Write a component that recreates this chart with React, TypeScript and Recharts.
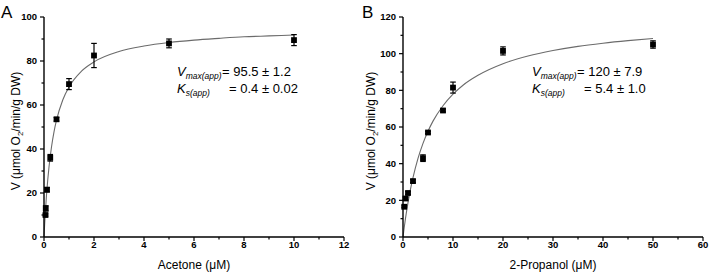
import React from 'react';
import { ComposedChart, Line, Scatter, ErrorBar, XAxis, YAxis } from 'recharts';

// Panel A: acetone
const acetoneConc = [0.06, 0.07, 0.12, 0.25, 0.5, 1, 2, 5, 10];
const acetoneRate = [10, 13, 21.5, 36, 53.5, 69.5, 82.5, 88, 89.5];
const acetoneErr = [0.5, 1.2, 1, 1.5, 0.8, 2.5, 5.5, 2, 2.5];
// fitted saturation curve, read along its length
const acetoneFitX = [0, 0.025, 0.05, 0.1, 0.15, 0.2, 0.3, 0.4, 0.5, 0.75, 1, 1.5, 2, 3, 4, 5, 6, 7, 8, 9, 10];
const acetoneFitY = [0, 5.6, 10.6, 19.1, 26, 31.8, 40.9, 47.8, 53.1, 62.3, 68.2, 75.4, 79.6, 84.3, 86.8, 88.4, 89.5, 90.3, 91, 91.4, 91.8];
const acetoneXTicks = [0, 1, 2, 3, 4, 5, 6, 7, 8, 9, 10, 11, 12];
const acetoneYTicks = [0, 10, 20, 30, 40, 50, 60, 70, 80, 90, 100];

// Panel B: 2-propanol
const propanolConc = [0.25, 0.5, 1, 2, 4, 5, 8, 10, 20, 50];
const propanolRate = [16.5, 21, 24, 30.5, 43, 57, 69, 81.5, 101.5, 105];
const propanolErr = [0.5, 0.8, 0.8, 0.8, 1.8, 0.6, 0.8, 3, 2.2, 2];
const propanolFitX = [0, 0.25, 0.5, 1, 1.5, 2, 3, 4, 5, 6, 8, 10, 12, 15, 20, 25, 30, 35, 40, 45, 50];
const propanolFitY = [0, 5.3, 10.2, 18.8, 26.1, 32.4, 42.9, 51.1, 57.7, 63.2, 71.6, 77.9, 82.8, 88.2, 94.5, 98.7, 101.7, 104, 105.7, 107.1, 108.3];
const propanolXTicks = [0, 5, 10, 15, 20, 25, 30, 35, 40, 45, 50, 55, 60];
const propanolYTicks = [0, 10, 20, 30, 40, 50, 60, 70, 80, 90, 100, 110, 120];

const FONT = '"Liberation Sans", Arial, sans-serif';

const toPoints = (xs: number[], ys: number[], errs?: number[]) =>
  xs.map((x, i) => ({ x, y: ys[i], err: errs ? errs[i] : 0 }));

const Square = (props: any) => {
  const { cx, cy } = props;
  if (cx == null || cy == null) return null;
  return <rect x={cx - 2.9} y={cy - 2.9} width={5.8} height={5.8} fill="#000" />;
};

// ticks with labels on every other value, short unlabelled ticks in between
const makeXTick = (labelStep: number) => (props: any) => {
  const { x, y, payload } = props;
  const major = payload.value % labelStep === 0;
  return (
    <g>
      <line x1={x} x2={x} y1={y} y2={y + (major ? 4 : 2.5)} stroke="#000" strokeWidth={1.2} />
      {major && (
        <text x={x} y={y + 10.5} textAnchor="middle" fontSize={9.5} fontWeight="bold" fontFamily={FONT} fill="#000">
          {payload.value}
        </text>
      )}
    </g>
  );
};

const makeYTick = (labelStep: number) => (props: any) => {
  const { x, y, payload } = props;
  const major = payload.value % labelStep === 0;
  return (
    <g>
      <line x1={x} x2={x - (major ? 4 : 2.5)} y1={y} y2={y} stroke="#000" strokeWidth={1.2} />
      {major && (
        <text x={x - 7} y={y + 3.4} textAnchor="end" fontSize={9.5} fontWeight="bold" fontFamily={FONT} fill="#000">
          {payload.value}
        </text>
      )}
    </g>
  );
};

const XTitle = ({ viewBox, text }: any) => (
  <text
    x={viewBox.x + viewBox.width / 2}
    y={viewBox.y + 32}
    textAnchor="middle"
    fontSize={12}
    fontFamily={FONT}
    fill="#000"
  >
    {text}
  </text>
);

const YTitle = ({ viewBox }: any) => {
  const x = viewBox.x + 20;
  const y = 131;
  return (
    <text x={x} y={y} transform={`rotate(-90, ${x}, ${y})`} textAnchor="middle" fontSize={12} fontFamily={FONT} fill="#000">
      V (μmol O<tspan dy={3} fontSize={8}>2</tspan>
      <tspan dy={-3}>/min/g DW)</tspan>
    </text>
  );
};

interface PanelProps {
  width: number;
  yAxisWidth: number;
  rightMargin: number;
  xDomain: [number, number];
  yDomain: [number, number];
  xTicks: number[];
  yTicks: number[];
  xLabelStep: number;
  xTitle: string;
  fit: { x: number; y: number; err: number }[];
  points: { x: number; y: number; err: number }[];
}

function KineticsPanel(p: PanelProps) {
  return (
    <ComposedChart width={p.width} height={275} margin={{ top: 17, right: p.rightMargin, bottom: 8, left: 0 }}>
      <XAxis
        type="number"
        dataKey="x"
        domain={p.xDomain}
        ticks={p.xTicks}
        interval={0}
        tickLine={false}
        tickSize={0}
        tickMargin={0}
        tick={makeXTick(p.xLabelStep)}
        axisLine={{ stroke: '#000', strokeWidth: 1.4 }}
        height={30}
        label={<XTitle text={p.xTitle} />}
      />
      <YAxis
        type="number"
        dataKey="y"
        domain={p.yDomain}
        ticks={p.yTicks}
        interval={0}
        tickLine={false}
        tickSize={0}
        tickMargin={0}
        tick={makeYTick(20)}
        axisLine={{ stroke: '#000', strokeWidth: 1.4 }}
        width={p.yAxisWidth}
        label={<YTitle />}
      />
      <Line
        data={p.fit}
        dataKey="y"
        type="monotone"
        stroke="#6b6b6b"
        strokeWidth={1.1}
        dot={false}
        activeDot={false}
        isAnimationActive={false}
      />
      <Scatter data={p.points} dataKey="y" shape={<Square />} isAnimationActive={false}>
        <ErrorBar dataKey="err" direction="y" width={2.8} stroke="#000" strokeWidth={1.2} />
      </Scatter>
    </ComposedChart>
  );
}

const Fit = ({ x, y, sub, rest, restX }: { x: number; y: number; sub: string; rest: string; restX: number }) => (
  <g fontFamily={FONT} fill="#000">
    <text x={x} y={y} fontSize={13} fontStyle="italic">
      {sub === 'max(app)' ? 'V' : 'K'}
      <tspan dy={3} fontSize={8.5}>{sub}</tspan>
    </text>
    <text x={restX} y={y} fontSize={13}>{rest}</text>
  </g>
);

export default function App() {
  return (
    <div style={{ position: 'absolute', left: 0, top: 0, width: 709, height: 275, background: '#fff' }}>
      <div style={{ position: 'absolute', left: 0, top: 0 }}>
        <KineticsPanel
          width={355}
          yAxisWidth={44}
          rightMargin={11}
          xDomain={[0, 12]}
          yDomain={[0, 100]}
          xTicks={acetoneXTicks}
          yTicks={acetoneYTicks}
          xLabelStep={2}
          xTitle="Acetone (μM)"
          fit={toPoints(acetoneFitX, acetoneFitY)}
          points={toPoints(acetoneConc, acetoneRate, acetoneErr)}
        />
      </div>
      <div style={{ position: 'absolute', left: 355, top: 0 }}>
        <KineticsPanel
          width={354}
          yAxisWidth={48}
          rightMargin={6}
          xDomain={[0, 60]}
          yDomain={[0, 120]}
          xTicks={propanolXTicks}
          yTicks={propanolYTicks}
          xLabelStep={10}
          xTitle="2-Propanol (μM)"
          fit={toPoints(propanolFitX, propanolFitY)}
          points={toPoints(propanolConc, propanolRate, propanolErr)}
        />
      </div>
      <svg width={709} height={275} style={{ position: 'absolute', left: 0, top: 0, pointerEvents: 'none' }}>
        <text x={1} y={18} fontSize={17} fontFamily={FONT} fill="#000">A</text>
        <text x={362} y={18} fontSize={17} fontFamily={FONT} fill="#000">B</text>
        <Fit x={177} y={76} sub="max(app)" rest="= 95.5 ± 1.2" restX={222} />
        <Fit x={177} y={93} sub="s(app)" rest="=  0.4 ± 0.02" restX={229} />
        <Fit x={532} y={76} sub="max(app)" rest="= 120 ± 7.9" restX={577} />
        <Fit x={532} y={93} sub="s(app)" rest="=  5.4 ± 1.0" restX={584} />
      </svg>
    </div>
  );
}
